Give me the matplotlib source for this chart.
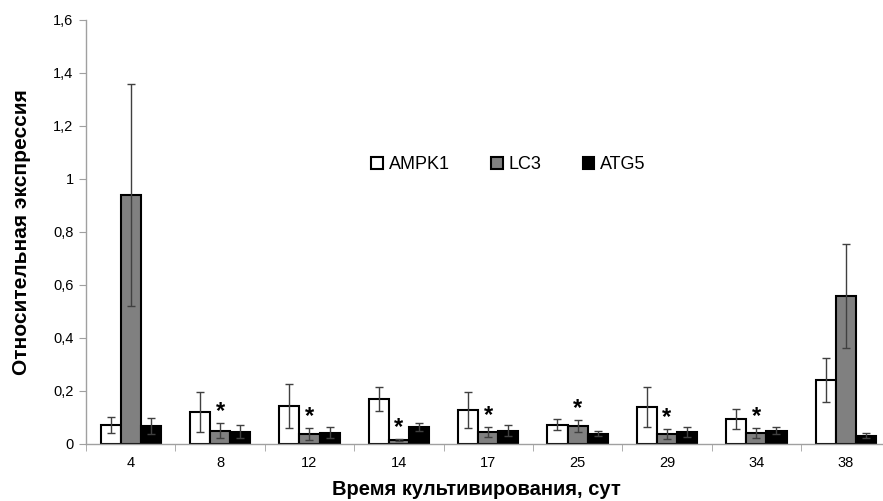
import numpy as np
import matplotlib
matplotlib.use('Agg')
import matplotlib.pyplot as plt

plt.rcParams['font.family'] = ['Liberation Sans', 'DejaVu Sans']

days = ['4', '8', '12', '14', '17', '25', '29', '34', '38']

ampk1 = [0.072, 0.122, 0.143, 0.171, 0.128, 0.073, 0.140, 0.094, 0.242]
ampk1_err = [0.030, 0.075, 0.083, 0.045, 0.069, 0.022, 0.076, 0.037, 0.083]

lc3 = [0.940, 0.050, 0.038, 0.015, 0.045, 0.069, 0.037, 0.043, 0.558]
lc3_err = [0.420, 0.028, 0.022, 0.003, 0.019, 0.023, 0.020, 0.019, 0.196]

atg5 = [0.069, 0.046, 0.043, 0.064, 0.050, 0.039, 0.046, 0.050, 0.031]
atg5_err = [0.030, 0.024, 0.021, 0.014, 0.020, 0.009, 0.018, 0.014, 0.009]

# значимые отличия LC3 (звёздочки)
lc3_signif = [False, True, True, True, True, True, True, True, False]

fig = plt.figure(figsize=(8.83, 5.01), dpi=100)
ax = fig.add_axes([0.0974, 0.1138, 0.911, 0.8463])

x = np.arange(len(days))
w = 0.225
err_kw = dict(ecolor='#404040', elinewidth=1, capsize=3, capthick=1)

ax.bar(x - w, ampk1, w, yerr=ampk1_err, color='white', edgecolor='black',
       linewidth=1.5, error_kw=err_kw, label='AMPK1')
ax.bar(x, lc3, w, yerr=lc3_err, color='#808080', edgecolor='black',
       linewidth=1.5, error_kw=err_kw, label='LC3')
ax.bar(x + w, atg5, w, yerr=atg5_err, color='black', edgecolor='black',
       linewidth=1.5, error_kw=err_kw, label='ATG5')

for i in range(len(days)):
    if lc3_signif[i]:
        ax.annotate('*', (x[i], lc3[i] + lc3_err[i]), xytext=(0, 0),
                    textcoords='offset points', ha='center', va='bottom',
                    fontsize=17, fontweight='bold')

ax.set_xlim(-0.5, len(days) - 0.5)
ax.set_ylim(0, 1.6)
ax.set_yticks(np.arange(0, 1.61, 0.2))
ax.set_yticklabels(['0', '0,2', '0,4', '0,6', '0,8', '1', '1,2', '1,4', '1,6'])
ax.set_xticks(x)
ax.set_xticklabels(days)
ax.set_xticks(np.arange(-0.5, len(days), 1), minor=True)

for s in ['top', 'right']:
    ax.spines[s].set_visible(False)
for s in ['left', 'bottom']:
    ax.spines[s].set_color('#a0a0a0')
    ax.spines[s].set_linewidth(1)

ax.tick_params(axis='y', length=5, color='#a0a0a0', labelsize=10.5, pad=4)
ax.tick_params(axis='x', which='major', length=0, labelsize=10.5, pad=9)
ax.tick_params(axis='x', which='minor', length=5, color='#a0a0a0')

ax.set_ylabel('Относительная экспрессия', fontsize=15, fontweight='bold', labelpad=16)
ax.set_xlabel('Время культивирования, сут', fontsize=14.5, fontweight='bold')
ax.xaxis.set_label_coords(0.485, -0.086)

ax.legend(loc='center', bbox_to_anchor=(0.525, 0.658), ncol=3, frameon=False,
          fontsize=13, handlelength=0.65, handleheight=0.65, handletextpad=0.3,
          columnspacing=2.3)

fig.savefig('out.png', dpi=100)
